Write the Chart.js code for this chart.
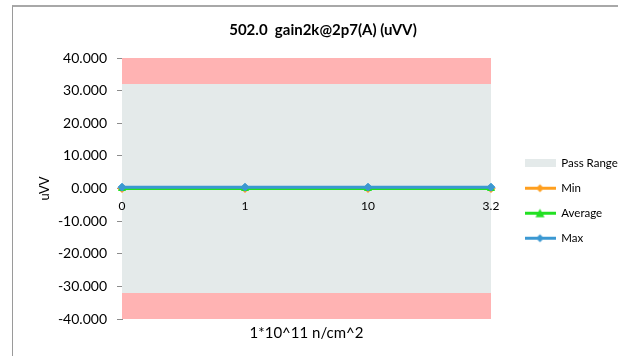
<!DOCTYPE html>
<html><head><meta charset="utf-8">
<script src="https://cdn.jsdelivr.net/npm/chart.js@4.4.1/dist/chart.umd.min.js"></script>
<style>
html,body{margin:0;padding:0;background:#fff;}
#wrap{position:relative;width:618px;height:356px;overflow:hidden;}
#frame{position:absolute;left:12px;top:5px;width:640px;height:380px;border-left:1px solid #9a9a9a;border-top:2px solid #a8a8a8;box-sizing:border-box;pointer-events:none;}
canvas{position:absolute;left:0;top:0;}
</style></head><body>
<div id="wrap"><canvas id="c" width="618" height="356"></canvas><div id="frame"></div></div>
<script>
// ---- data ----
const categories = ['0', '1', '10', '3.2'];
const minValues = [0, 0, 0, 0];
const avgValues = [0, 0, 0, 0];
const maxValues = [0.4, 0.4, 0.4, 0.4];
const passHigh = [32, 32, 32, 32];
const passLow = [-32, -32, -32, -32];
const limitHigh = [40, 40, 40, 40];
const limitLow = [-40, -40, -40, -40];
const yTicks = [40, 30, 20, 10, 0, -10, -20, -30, -40];
const chartTitle = '502.0  gain2k@2p7(A) (uVV)';
const xTitle = '1*10^11 n/cm^2';
const yTitle = 'uVV';

// ---- styles ----
const C_MIN = '#ff9f1e', C_AVG = '#22e022', C_MAX = '#3b98d2';
const C_PASS = '#e4eaea', C_FAIL = '#ffb3b3';
const FONT = 'Lato';

function lineIcon(color, shape) {
  const c = document.createElement('canvas'); c.width = 31; c.height = 11;
  const g = c.getContext('2d');
  g.strokeStyle = color; g.lineWidth = 3;
  g.beginPath(); g.moveTo(0, 5.5); g.lineTo(31, 5.5); g.stroke();
  g.fillStyle = color; g.beginPath();
  if (shape === 'diamond') { g.moveTo(15.5, 1.5); g.lineTo(19.5, 5.5); g.lineTo(15.5, 9.5); g.lineTo(11.5, 5.5); }
  else { g.moveTo(15.5, 1); g.lineTo(20, 9.5); g.lineTo(11, 9.5); }
  g.closePath(); g.fill();
  return c;
}
function boxIcon(color) {
  const c = document.createElement('canvas'); c.width = 31; c.height = 8;
  const g = c.getContext('2d'); g.fillStyle = color; g.fillRect(0, 0, 31, 8);
  return c;
}
const band = (label, data, fill, bg) => ({
  type: 'line', label, data, fill, backgroundColor: bg, borderWidth: 0,
  borderColor: 'rgba(0,0,0,0)', pointRadius: 0, order: 10
});
const series = (label, data, color, pstyle, order) => ({
  type: 'line', label, data, borderColor: color, backgroundColor: color,
  borderWidth: 3, pointStyle: pstyle, pointRadius: 4, pointBorderWidth: 1,
  pointBackgroundColor: color, pointBorderColor: color, fill: false, order
});

const legendIcons = {
  'Pass Range': boxIcon(C_PASS),
  'Min': lineIcon(C_MIN, 'diamond'),
  'Average': lineIcon(C_AVG, 'triangle'),
  'Max': lineIcon(C_MAX, 'diamond')
};

const chart = new Chart(document.getElementById('c'), {
  type: 'line',
  data: {
    labels: categories,
    datasets: [
      band('Upper Limit', limitHigh, false, 'rgba(0,0,0,0)'),
      band('Fail High', passHigh, '-1', C_FAIL),
      band('Pass Range', passLow, '-1', C_PASS),
      band('Fail Low', limitLow, '-1', C_FAIL),
      series('Min', minValues, C_MIN, 'rectRot', 2),
      series('Average', avgValues, C_AVG, 'triangle', 1),
      series('Max', maxValues, C_MAX, 'rectRot', 0)
    ]
  },
  options: {
    responsive: false, animation: false, devicePixelRatio: 1,
    layout: { padding: { left: 28, right: 0, top: 0, bottom: 0 } },
    plugins: {
      tooltip: { enabled: false },
      title: {
        display: true, text: chartTitle, color: '#000',
        font: { family: FONT, size: 15, weight: 'bold' },
        padding: { top: 21, bottom: 19 }
      },
      legend: {
        position: 'right', align: 'center',
        title: { display: true, text: ' ', font: { size: 10 }, padding: { top: 17, bottom: 16.5 } },
        labels: {
          usePointStyle: true, pointStyleWidth: 31, boxHeight: 12, padding: 13.5,
          color: '#000', font: { family: FONT, size: 11.5 },
          generateLabels(ch) {
            const names = ['Pass Range', 'Min', 'Average', 'Max'];
            return names.map(n => {
              const i = ch.data.datasets.findIndex(d => d.label === n);
              return { text: n, datasetIndex: i, pointStyle: legendIcons[n], fillStyle: 'rgba(0,0,0,0)',
                strokeStyle: 'rgba(0,0,0,0)', lineWidth: 0, hidden: false, fontColor: '#000' };
            });
          }
        }
      }
    },
    scales: {
      x: {
        type: 'category', labels: categories, offset: false, position: { y: 0 },
        grid: { display: false, drawTicks: false }, border: { display: false },
        ticks: { z: 1, padding: 10, color: '#000', font: { family: FONT, size: 12 }, maxRotation: 0, autoSkip: false }
      },
      x2: {
        type: 'category', labels: categories, position: 'bottom', offset: false,
        grid: { display: false, drawTicks: false }, border: { display: false },
        ticks: { display: false },
        title: { display: true, text: xTitle, color: '#000', font: { family: FONT, size: 15 }, padding: { top: 0, bottom: 14 } },
        afterFit(s) { s.height = 37; }
      },
      y: {
        type: 'linear', position: 'left', min: -40, max: 40,
        afterBuildTicks(s) { s.ticks = yTicks.map(v => ({ value: v })); },
        ticks: { callback: v => Number(v).toFixed(3), color: '#000', font: { family: FONT, size: 14 }, padding: 10 },
        grid: { drawOnChartArea: false, tickLength: 5, color: '#8c8c8c' },
        border: { color: '#8c8c8c' },
        title: { display: true, text: yTitle, color: '#000', font: { family: FONT, size: 13 }, padding: { top: 9, bottom: 0 } },
        afterFit(s) { s.width = 94; }
      },
      y2: {
        type: 'linear', position: 'right', display: true,
        grid: { display: false, drawTicks: false }, border: { display: false },
        ticks: { display: false },
        afterFit(s) { s.width = 20; }
      }
    }
  }
});
const lg = chart.legend;
const origFit = lg.fit.bind(lg);
lg.fit = function () { origFit(); this.width = 107; };
chart.update();
</script>
</body></html>
